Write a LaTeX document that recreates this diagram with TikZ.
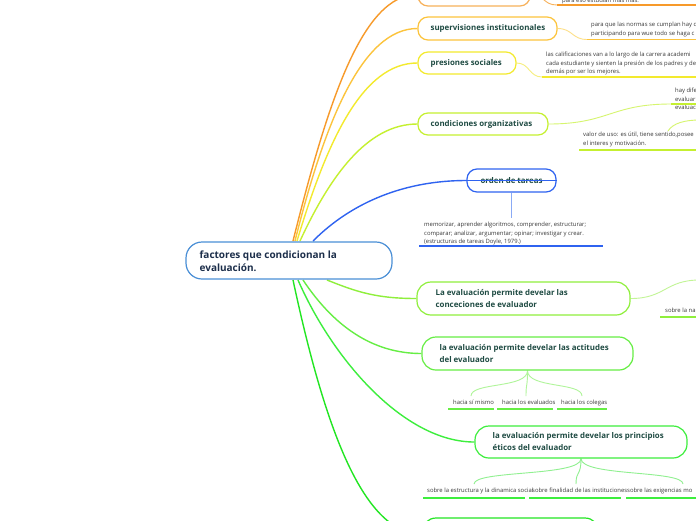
\documentclass[tikz,border=0pt]{standalone}
\usepackage{fontspec}
\setmainfont{Open Sans}
\usetikzlibrary{calc,backgrounds}
\definecolor{tealtext}{HTML}{1F4B43}
\definecolor{navytext}{HTML}{1C2E4A}
\definecolor{smalltext}{HTML}{3A3A3A}
\definecolor{cCentral}{HTML}{4A8FD6}
\definecolor{cOrange}{HTML}{F79A2A}
\definecolor{cLOrange}{HTML}{FCC43D}
\definecolor{cYellow}{HTML}{F3EA2E}
\definecolor{cYGreen}{HTML}{C5F030}
\definecolor{cBlue}{HTML}{2F63F0}
\definecolor{cGreenA}{HTML}{8FEF3C}
\definecolor{cGreenB}{HTML}{66EE44}
\definecolor{cGreenC}{HTML}{3DEE3D}
\definecolor{cGreenD}{HTML}{22E622}
\definecolor{pOrange}{HTML}{F7B15A}
\definecolor{pLOrange}{HTML}{FDE08A}
\definecolor{pYellow}{HTML}{F6EE80}
\definecolor{pYGreen}{HTML}{D6F56E}
\definecolor{pBlue}{HTML}{8AAAF5}
\definecolor{pGreenA}{HTML}{C2F596}
\definecolor{pGreenB}{HTML}{B0F59A}
\definecolor{pGreenC}{HTML}{90F090}
\begin{document}
\begin{tikzpicture}[x=1pt,y=-1pt,
  bx/.style={draw, fill=white, line width=1.2pt, rounded corners=10pt, inner sep=0pt},
  bigbx/.style={bx, rounded corners=14pt},
  lbl/.style={anchor=west, inner sep=0pt, align=left, text=tealtext,
    font=\bfseries\fontsize{7.9}{12}\selectfont},
  small/.style={anchor=base west, inner sep=0pt, text=smalltext,
    font=\fontsize{5.9}{8.7}\selectfont},
  branch/.style={line width=1.4pt},
  sub/.style={line width=0.9pt},
  uline/.style={line width=1.8pt}
]
\useasboundingbox (0,0) rectangle (696,520);

% ---------- nodes ----------
\node[bx, draw=cCentral, rounded corners=16pt, minimum width=206pt, minimum height=37pt] (c) at (289,260.5) {};
\node[lbl, text=navytext, font=\bfseries\fontsize{10}{13}\selectfont] (c-t) at ($(c.west)+(14,0.5)$) {factores que condicionan la\\evaluación.};

\node[bx, draw=pOrange, minimum width=112pt, minimum height=23pt] (top) at (474,-5.5) {};

\node[bx, draw=cLOrange, minimum width=139pt, minimum height=23pt] (sup) at (487.5,28.5) {};
\node[lbl] (sup-t) at ($(sup.west)+(13,0)$) {supervisiones institucionales};

\node[bx, draw=cYellow, minimum width=98pt, minimum height=22pt] (pres) at (467,63) {};
\node[lbl] (pres-t) at ($(pres.west)+(13,0)$) {presiones sociales};

\node[bx, draw=cYGreen, minimum width=130pt, minimum height=22pt] (cond) at (483,124) {};
\node[lbl] (cond-t) at ($(cond.west)+(13,0)$) {condiciones organizativas};

\node[bx, draw=cBlue, minimum width=89pt, minimum height=23pt, text=tealtext,
  font=\bfseries\fontsize{7.9}{12}\selectfont] (ord) at (511.5,180.5) {orden de tareas};

\node[bigbx, draw=cGreenA, minimum width=213pt, minimum height=33pt] (conc) at (523.5,298.5) {};
\node[lbl] (conc-t) at ($(conc.west)+(19,0)$) {La evaluación permite develar las\\conceciones de evaluador};

\node[bigbx, draw=cGreenB, minimum width=211pt, minimum height=33pt] (act) at (527.5,353.5) {};
\node[lbl] (act-t) at ($(act.west)+(18,0)$) {la evaluación permite develar las actitudes\\del evaluador};

\node[bigbx, draw=cGreenC, minimum width=212pt, minimum height=32pt] (princ) at (581,442) {};
\node[lbl] (princ-t) at ($(princ.west)+(18,0)$) {la evaluación permite develar los principios\\éticos del evaluador};

\node[bigbx, draw=cGreenD, minimum width=177pt, minimum height=32pt] (bot) at (510.5,534) {};

% ---------- child texts ----------
\node[small] (pe-t) at (562,2) {para eso estudian mas mas.};
\node[small] (sup-c) at (591,26.5) {\begin{tabular}[t]{@{}l@{}}para que las normas se cumplan hay q\\participando para wue todo se haga c\end{tabular}};
\node[small] (pres-c) at (546,56.5) {\begin{tabular}[t]{@{}l@{}}las calificaciones van a lo largo de la carrera academi\\cada estudiante y sienten la presión de los padres y de\\demás por ser los mejores.\end{tabular}};
\node[small] (hay-c) at (675,92.5) {\begin{tabular}[t]{@{}l@{}}hay dife\\evaluar\\evaluac\end{tabular}};
\node[small] (val-c) at (583,136.5) {\begin{tabular}[t]{@{}l@{}}valor de uso: es útil, tiene sentido,posee\\el interes y motivación.\end{tabular}};
\node[small] (mem-c) at (424,226.5) {\begin{tabular}[t]{@{}l@{}}memorizar, aprender algoritmos, comprender, estructurar;\\comparar; analizar, argumentar; opinar; investigar y crear.\\(estructuras de tareas Doyle, 1979.)\end{tabular}};
\node[small] (na-c) at (665,312.5) {sobre la na};
\node[small] (h1-t) at (453,404.5) {hacia sí mismo};
\node[small] (h2-t) at (502,404.5) {hacia los evaluados};
\node[small] (h3-t) at (561,404.5) {hacia los colegas};
\node[small] (e1-t) at (427,492.5) {sobre la estructura y la dinamica social};
\node[small] (e2-t) at (532,492.5) {sobre finalidad de las instituciones};
\node[small] (e3-t) at (627,492.5) {sobre las exigencias mo};

% ---------- coordinates ----------
\coordinate (s1) at (293,241);
\coordinate (s2) at (295,241);
\coordinate (s3) at (297,241);
\coordinate (s4) at (300,241);
\coordinate (s5) at (313,241);
\coordinate (s6) at (327,280);
\coordinate (s7) at (303,280);
\coordinate (s8) at (298,280);
\coordinate (s9) at (293,280);
\coordinate (pe1) at (557,5);   \coordinate (pe2) at (700,5);
\coordinate (su1) at (587,39.5); \coordinate (su2) at (700,39.5);
\coordinate (pr1) at (542,77);  \coordinate (pr2) at (700,77);
\coordinate (k1) at (671,104);  \coordinate (k2) at (700,104);
\coordinate (k3) at (668,131);  \coordinate (k4) at (700,120);
\coordinate (v1) at (579,150);  \coordinate (v2) at (700,150);
\coordinate (o1) at (511.5,218);
\coordinate (m1) at (419,246);  \coordinate (m2) at (603,246);
\coordinate (n1) at (700,280);
\coordinate (n2) at (660,317);  \coordinate (n3) at (700,317);
\coordinate (h1) at (471,396);  \coordinate (h2) at (526,396);  \coordinate (h3) at (582,396);
\coordinate (e1) at (474,484);  \coordinate (e2) at (576,484);  \coordinate (e3) at (683,484);

% ---------- connectors ----------
\begin{scope}[on background layer]
\fill[white] (0,0) rectangle (696,520);
\draw[branch, cOrange] (s1) .. controls ($(s1)+(35,-140)$) and ($(top.west)+(-55,0)$) .. (top.west);
\draw[branch, cLOrange] (s2) .. controls ($(s2)+(30,-120)$) and ($(sup.west)+(-55,0)$) .. (sup.west);
\draw[branch, cYellow] (s3) .. controls ($(s3)+(30,-100)$) and ($(pres.west)+(-55,0)$) .. (pres.west);
\draw[branch, cYGreen] (s4) .. controls ($(s4)+(30,-65)$) and ($(cond.west)+(-50,0)$) .. (cond.west);
\draw[branch, cBlue] (s5) .. controls ($(s5)+(40,-40)$) and ($(ord.west)+(-60,0)$) .. (ord.west);
\draw[branch, cGreenA] (s6) .. controls ($(s6)+(30,12)$) and ($(conc.west)+(-40,0)$) .. (conc.west);
\draw[branch, cGreenB] (s7) .. controls ($(s7)+(30,45)$) and ($(act.west)+(-50,0)$) .. (act.west);
\draw[branch, cGreenC] (s8) .. controls ($(s8)+(35,80)$) and ($(princ.west)+(-70,0)$) .. (princ.west);
\draw[branch, cGreenD] (s9) .. controls ($(s9)+(30,140)$) and ($(bot.west)+(-60,0)$) .. (bot.west);

\draw[sub, pOrange] (top.east) .. controls ($(top.east)+(14,0)$) and ($(pe1)+(-14,0)$) .. (pe1);
\draw[sub, pLOrange] (sup.east) .. controls ($(sup.east)+(15,0)$) and ($(su1)+(-15,0)$) .. (su1);
\draw[sub, pYellow] (pres.east) .. controls ($(pres.east)+(13,0)$) and ($(pr1)+(-13,0)$) .. (pr1);
\draw[sub, pYGreen] (cond.east) .. controls ($(cond.east)+(60,0)$) and ($(k1)+(-60,0)$) .. (k1);
\draw[sub, pYGreen] (k3) .. controls ($(k3)+(5,-8)$) and ($(k4)+(-15,0)$) .. (k4);
\draw[sub, pBlue] (ord.south) -- (o1);
\draw[sub, pGreenA] (conc.east) .. controls ($(conc.east)+(35,0)$) and ($(n1)+(-35,0)$) .. (n1);
\foreach \h in {h1,h2,h3}
  \draw[sub, pGreenB] (act.south) .. controls ($(act.south)+(0,18)$) and ($(\h)+(0,-14)$) .. (\h);
\foreach \e in {e1,e2,e3}
  \draw[sub, pGreenC] (princ.south) .. controls ($(princ.south)+(0,18)$) and ($(\e)+(0,-14)$) .. (\e);
\end{scope}

% ---------- underlines ----------
\draw[uline, cOrange] (pe1) -- (pe2);
\draw[uline, cLOrange] (su1) -- (su2);
\draw[uline, cYellow] (pr1) -- (pr2);
\draw[uline, cYGreen] (k1) -- (k2);
\draw[uline, cYGreen] (v1) -- (v2);
\draw[uline, cBlue] (m1) -- (m2);
\draw[uline, cGreenA] (n2) -- (n3);
\draw[uline, cGreenB] (448,409) coordinate (hu1a) -- (494,409) coordinate (hu1b);
\draw[uline, cGreenB] (497,409) coordinate (hu2a) -- (553,409) coordinate (hu2b);
\draw[uline, cGreenB] (557,409) coordinate (hu3a) -- (607,409) coordinate (hu3b);
\draw[uline, cGreenC] (423,498) coordinate (eu1a) -- (525,498) coordinate (eu1b);
\draw[uline, cGreenC] (529,498) coordinate (eu2a) -- (621,498) coordinate (eu2b);
\draw[uline, cGreenC] (626,498) coordinate (eu3a) -- (700,498) coordinate (eu3b);

% line through the "orden de tareas" node
\draw[line width=0.9pt, cBlue] (ord.west) -- (ord.east);
\end{tikzpicture}
\end{document}
